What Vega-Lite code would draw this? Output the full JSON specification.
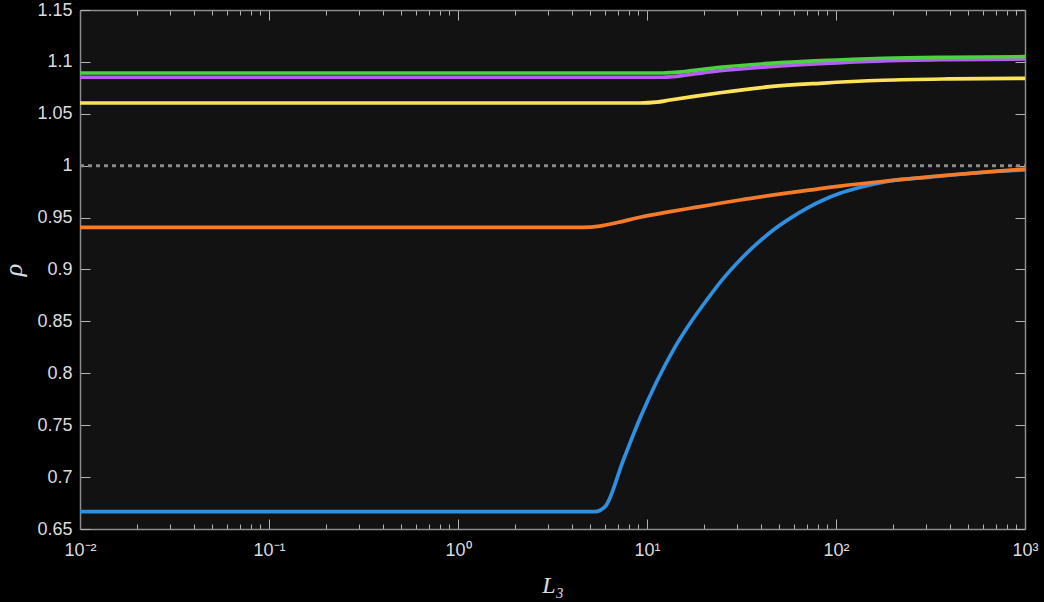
{
  "$schema": "https://vega.github.io/schema/vega-lite/v6.json",
  "description": "rho against L3 for five cases, log x axis, dark theme",
  "width": 945,
  "height": 519,
  "autosize": "none",
  "padding": {"left": 80, "top": 10, "right": 19, "bottom": 73},
  "background": "#000000",
  "config": {
    "view": {"fill": "#121212", "stroke": null},
    "axis": {
      "grid": false,
      "domainColor": "#8c8c8c",
      "domainWidth": 1.5,
      "tickColor": "#b4b4b4",
      "tickWidth": 1,
      "labelColor": "#dcdcdc",
      "labelFont": "Liberation Sans",
      "labelFontSize": 18,
      "labelFlush": false,
      "labelOverlap": false,
      "labelBound": false,
      "titleColor": "#dcdcdc",
      "titleFont": "Liberation Serif",
      "titleFontStyle": "italic",
      "titleFontWeight": "normal"
    }
  },
  "datasets": {
    "ref": [
      {"L": 0.01, "rho": 1},
      {"L": 1000, "rho": 1}
    ],
    "curves": [
      {"series": "a", "L": 0.01, "rho": 0.6667},
      {"series": "a", "L": 5.309, "rho": 0.6667},
      {"series": "a", "L": 5.998, "rho": 0.6715},
      {"series": "a", "L": 7.499, "rho": 0.7165},
      {"series": "a", "L": 9.183, "rho": 0.7567},
      {"series": "a", "L": 11.246, "rho": 0.7919},
      {"series": "a", "L": 13.772, "rho": 0.8224},
      {"series": "a", "L": 16.904, "rho": 0.8482},
      {"series": "a", "L": 20.701, "rho": 0.8706},
      {"series": "a", "L": 25.351, "rho": 0.8915},
      {"series": "a", "L": 31.046, "rho": 0.9092},
      {"series": "a", "L": 38.019, "rho": 0.9246},
      {"series": "a", "L": 46.559, "rho": 0.9381},
      {"series": "a", "L": 57.148, "rho": 0.9493},
      {"series": "a", "L": 69.984, "rho": 0.959},
      {"series": "a", "L": 85.704, "rho": 0.967},
      {"series": "a", "L": 104.95, "rho": 0.9734},
      {"series": "a", "L": 128.53, "rho": 0.9782},
      {"series": "a", "L": 157.4, "rho": 0.9821},
      {"series": "a", "L": 193.2, "rho": 0.9853},
      {"series": "a", "L": 316.23, "rho": 0.989},
      {"series": "a", "L": 562.34, "rho": 0.9932},
      {"series": "a", "L": 1000, "rho": 0.996},
      {"series": "b", "L": 0.01, "rho": 0.9406},
      {"series": "b", "L": 4.581, "rho": 0.9406},
      {"series": "b", "L": 5.623, "rho": 0.9418},
      {"series": "b", "L": 7.079, "rho": 0.9455},
      {"series": "b", "L": 9.183, "rho": 0.9503},
      {"series": "b", "L": 12.589, "rho": 0.955},
      {"series": "b", "L": 16.904, "rho": 0.959},
      {"series": "b", "L": 31.046, "rho": 0.967},
      {"series": "b", "L": 57.148, "rho": 0.974},
      {"series": "b", "L": 104.95, "rho": 0.9804},
      {"series": "b", "L": 193.2, "rho": 0.9856},
      {"series": "b", "L": 354.81, "rho": 0.9903},
      {"series": "b", "L": 630.96, "rho": 0.994},
      {"series": "b", "L": 1000, "rho": 0.9968},
      {"series": "c", "L": 0.01, "rho": 1.0604},
      {"series": "c", "L": 9.183, "rho": 1.0604},
      {"series": "c", "L": 11.22, "rho": 1.0612},
      {"series": "c", "L": 13.24, "rho": 1.0633},
      {"series": "c", "L": 17.78, "rho": 1.0668},
      {"series": "c", "L": 24.32, "rho": 1.0703},
      {"series": "c", "L": 44.77, "rho": 1.0761},
      {"series": "c", "L": 82.22, "rho": 1.0794},
      {"series": "c", "L": 177.8, "rho": 1.0823},
      {"series": "c", "L": 398.1, "rho": 1.0836},
      {"series": "c", "L": 1000, "rho": 1.0842},
      {"series": "d", "L": 0.01, "rho": 1.0852},
      {"series": "d", "L": 12.162, "rho": 1.0852},
      {"series": "d", "L": 13.5, "rho": 1.0857},
      {"series": "d", "L": 16.218, "rho": 1.0874},
      {"series": "d", "L": 24.322, "rho": 1.0915},
      {"series": "d", "L": 44.77, "rho": 1.0954},
      {"series": "d", "L": 82.22, "rho": 1.0983},
      {"series": "d", "L": 177.8, "rho": 1.101},
      {"series": "d", "L": 398.1, "rho": 1.1022},
      {"series": "d", "L": 1000, "rho": 1.1028},
      {"series": "e", "L": 0.01, "rho": 1.0893},
      {"series": "e", "L": 12.162, "rho": 1.0893},
      {"series": "e", "L": 13.5, "rho": 1.0897},
      {"series": "e", "L": 16.218, "rho": 1.0909},
      {"series": "e", "L": 24.322, "rho": 1.0948},
      {"series": "e", "L": 44.77, "rho": 1.0986},
      {"series": "e", "L": 82.22, "rho": 1.1012},
      {"series": "e", "L": 177.8, "rho": 1.1035},
      {"series": "e", "L": 398.1, "rho": 1.1045},
      {"series": "e", "L": 1000, "rho": 1.105}
    ]
  },
  "resolve": {"axis": {"x": "independent", "y": "independent"}},
  "layer": [
    {
      "data": {"name": "ref"},
      "mark": {"type": "line", "stroke": "#8a8a8a", "strokeWidth": 3, "strokeDash": [4, 4], "strokeCap": "butt"},
      "encoding": {
        "x": {
          "field": "L", "type": "quantitative",
          "scale": {"type": "log", "domain": [0.01, 1000], "nice": false},
          "axis": {
            "orient": "bottom",
            "title": "L₃",
            "titleFontSize": 24,
            "titleY": 63,
            "titleBaseline": "alphabetic",
            "values": [0.01,0.02,0.03,0.04,0.05,0.06,0.07,0.08,0.09,0.1,0.2,0.3,0.4,0.5,0.6,0.7,0.8,0.9,1,2,3,4,5,6,7,8,9,10,20,30,40,50,60,70,80,90,100,200,300,400,500,600,700,800,900,1000],
            "tickSize": {"condition": {"test": "abs(log(datum.value)/LN10 - round(log(datum.value)/LN10)) < 0.001", "value": -10}, "value": -5},
            "labelPadding": 22,
            "labelExpr": "abs(log(datum.value)/LN10 - round(log(datum.value)/LN10)) < 0.001 ? ['10⁻²','10⁻¹','10⁰','10¹','10²','10³'][round(log(datum.value)/LN10) + 2] : ''"
          }
        },
        "y": {
          "field": "rho", "type": "quantitative",
          "scale": {"domain": [0.65, 1.15], "nice": false, "zero": false},
          "axis": {
            "orient": "left",
            "title": "ρ",
            "titleFontSize": 26,
            "titleAngle": -90,
            "titleX": -67,
            "titleBaseline": "middle",
            "values": [0.65,0.7,0.75,0.8,0.85,0.9,0.95,1,1.05,1.1,1.15],
            "format": "~g",
            "tickSize": -10,
            "labelPadding": 18
          }
        }
      }
    },
    {
      "data": {"name": "curves"},
      "mark": {"type": "line", "strokeWidth": 3.7, "interpolate": "monotone"},
      "encoding": {
        "x": {
          "field": "L", "type": "quantitative",
          "scale": {"type": "log", "domain": [0.01, 1000], "nice": false},
          "axis": {
            "orient": "top",
            "title": null,
            "labels": false,
            "values": [0.01,0.02,0.03,0.04,0.05,0.06,0.07,0.08,0.09,0.1,0.2,0.3,0.4,0.5,0.6,0.7,0.8,0.9,1,2,3,4,5,6,7,8,9,10,20,30,40,50,60,70,80,90,100,200,300,400,500,600,700,800,900,1000],
            "tickSize": {"condition": {"test": "abs(log(datum.value)/LN10 - round(log(datum.value)/LN10)) < 0.001", "value": -10}, "value": -5}
          }
        },
        "y": {
          "field": "rho", "type": "quantitative",
          "scale": {"domain": [0.65, 1.15], "nice": false, "zero": false},
          "axis": {
            "orient": "right",
            "title": null,
            "labels": false,
            "values": [0.65,0.7,0.75,0.8,0.85,0.9,0.95,1,1.05,1.1,1.15],
            "tickSize": -10
          }
        },
        "color": {
          "field": "series", "type": "nominal",
          "scale": {"domain": ["a", "b", "c", "d", "e"], "range": ["#2f8fe0", "#f47b2b", "#fde25a", "#b85cf5", "#4bd142"]},
          "legend": null
        },
        "order": {"field": "L", "type": "quantitative"}
      }
    }
  ]
}
